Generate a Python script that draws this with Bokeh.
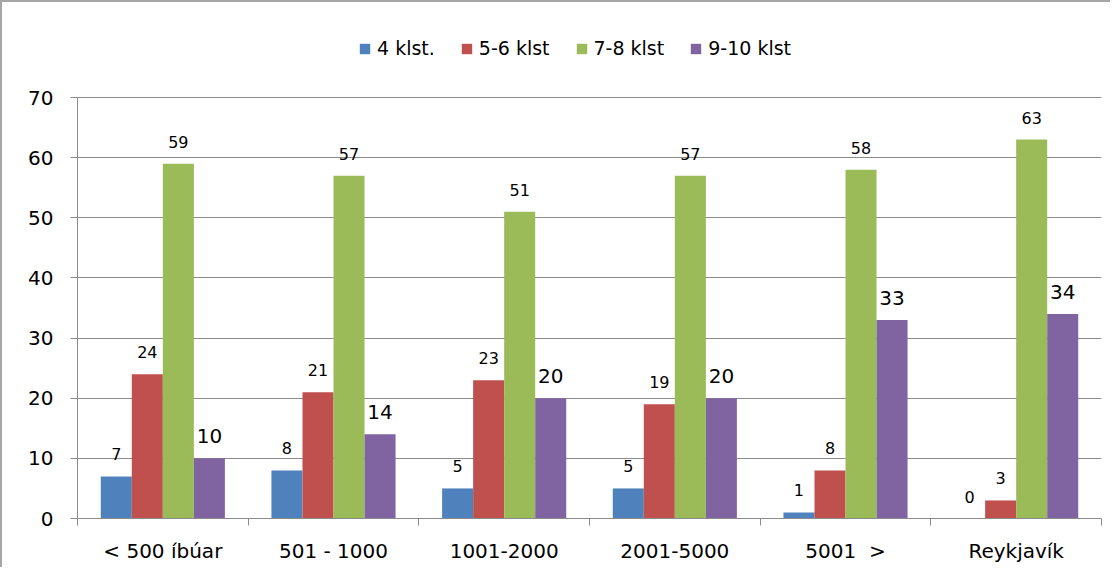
from bokeh.plotting import figure
from bokeh.models import FixedTicker, Legend, LegendItem, Range1d
from bokeh.core.properties import value
from bokeh.embed import file_html
from bokeh.resources import INLINE

categories = ["< 500 íbúar", "501 - 1000", "1001-2000", "2001-5000", "5001\u00a0\u00a0>", "Reykjavík"]
series_names = ["4 klst.", "5-6 klst", "7-8 klst", "9-10 klst"]
s_4 = [7, 8, 5, 5, 1, 0]
s_56 = [24, 21, 23, 19, 8, 3]
s_78 = [59, 57, 51, 57, 58, 63]
s_910 = [10, 14, 20, 20, 33, 34]
series = [s_4, s_56, s_78, s_910]
colors = ["#4F81BD", "#C0504D", "#9BBB59", "#8064A2"]
y_ticks = [0, 10, 20, 30, 40, 50, 60, 70]

FONT = "DejaVu Sans"
GRID = "#8c8c8c"

# layout (canvas pixels)
H, W = 567, 1110
TOP, BOTTOM, LEFT, RIGHT = 10, 51, 75, 11
Y0_PX, Y70_PX = 516, 95
px_per_unit = (Y0_PX - Y70_PX) / y_ticks[-1]
y_top = y_ticks[-1] + (Y70_PX - TOP) / px_per_unit

p = figure(width=W, height=H, output_backend="svg", toolbar_location=None,
           x_range=Range1d(0, len(categories)), y_range=Range1d(0, y_top),
           min_border_left=LEFT, min_border_right=RIGHT, min_border_top=TOP,
           min_border_bottom=BOTTOM)
p.styles = {"border-top": "2px solid #a6a6a6", "border-left": "2px solid #a6a6a6"}
p.outline_line_color = None
p.background_fill_color = "white"
p.border_fill_color = "white"

w = 1 / 5.5
offsets = [-1.5 * w, -0.5 * w, 0.5 * w, 1.5 * w]
label_sizes = ["16px", "16px", "16px", "20px"]
items = []
for k, vals in enumerate(series):
    xs = [i + 0.5 + offsets[k] for i in range(len(categories))]
    r = p.vbar(x=xs, top=vals, bottom=0, width=w, fill_color=colors[k], line_color=None)
    items.append(LegendItem(label=series_names[k], renderers=[r]))
    p.text(x=xs, y=vals, text=[str(v) for v in vals], text_align="center",
           text_baseline="alphabetic", y_offset=-22, text_font=value(FONT),
           text_font_size=label_sizes[k], text_color="black")

# axes
xa = p.xaxis[0]
xa.ticker = FixedTicker(ticks=[i + 0.5 for i in range(len(categories))],
                        minor_ticks=list(range(len(categories) + 1)))
xa.major_label_overrides = {i + 0.5: c for i, c in enumerate(categories)}
xa.major_tick_line_color = None
xa.major_tick_out = 0
xa.major_tick_in = 0
xa.minor_tick_out = 7
xa.minor_tick_in = 0
xa.minor_tick_line_color = GRID
xa.axis_line_color = GRID
xa.major_label_text_font = FONT
xa.major_label_text_font_size = "20px"
xa.major_label_text_color = "black"
xa.major_label_standoff = 13

ya = p.yaxis[0]
ya.ticker = FixedTicker(ticks=y_ticks, minor_ticks=[])
ya.bounds = (y_ticks[0], y_ticks[-1])
ya.major_tick_out = 7
ya.major_tick_in = 0
ya.major_tick_line_color = GRID
ya.axis_line_color = GRID
ya.major_label_text_font = FONT
ya.major_label_text_font_size = "20px"
ya.major_label_text_color = "black"
ya.major_label_standoff = 17

p.xgrid.visible = False
p.ygrid.ticker = FixedTicker(ticks=y_ticks)
p.ygrid.grid_line_color = GRID

legend = Legend(items=items, orientation="horizontal", location=(281, 459),
                glyph_width=13, glyph_height=13, label_standoff=6, spacing=25,
                padding=0, margin=0, border_line_color=None, background_fill_alpha=0,
                label_text_font=FONT, label_text_font_size="19px", label_text_color="black")
p.add_layout(legend)

open("out.html", "w").write(file_html(p, INLINE))
